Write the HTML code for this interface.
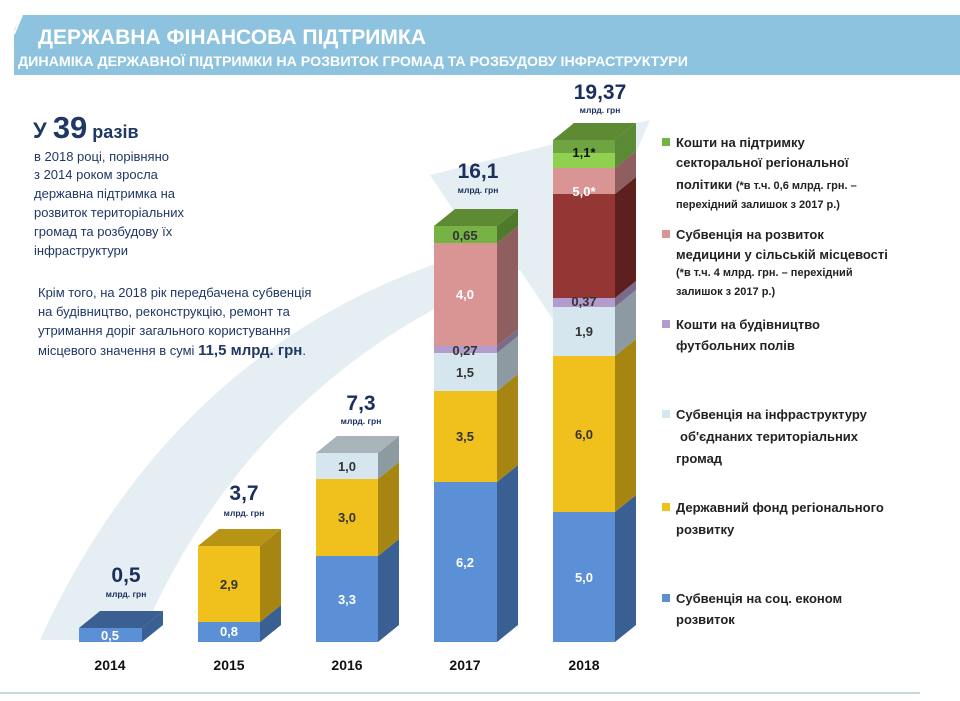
<!DOCTYPE html>
<html><head><meta charset="utf-8"><style>
body{margin:0;background:#fff;}
svg text{font-family:"Liberation Sans","DejaVu Sans",sans-serif;}
</style></head><body>
<svg width="960" height="696" viewBox="0 0 960 696" xmlns="http://www.w3.org/2000/svg">
<rect width="960" height="696" fill="#fff"/>
<!-- header -->
<polygon points="22,15 960,15 960,75 14,75 14,30" fill="#8dc3de"/>
<line x1="14" y1="34" x2="22" y2="15" stroke="#fff" stroke-width="2"/>
<text x="38" y="44" font-size="21" font-weight="bold" fill="#fff" textLength="388" lengthAdjust="spacingAndGlyphs">ДЕРЖАВНА ФІНАНСОВА  ПІДТРИМКА</text>
<text x="18" y="66" font-size="13.5" font-weight="bold" fill="#fff" textLength="670" lengthAdjust="spacingAndGlyphs">ДИНАМІКА ДЕРЖАВНОЇ ПІДТРИМКИ НА РОЗВИТОК ГРОМАД ТА РОЗБУДОВУ ІНФРАСТРУКТУРИ</text>
<line x1="0" y1="693" x2="920" y2="693" stroke="#c7d7e0" stroke-width="2"/>
<!-- background arrow -->
<path d="M40,640 C140,420 300,300 480,250 L430,175 L650,120 L560,330 L520,270 C360,330 220,450 140,640 Z" fill="#e4eef3"/>
<!-- left text -->
<text x="33" y="138" fill="#1f3864" font-weight="bold"><tspan font-size="22">У </tspan><tspan font-size="31">39</tspan><tspan font-size="18"> разів</tspan></text>
<g font-size="13" fill="#1f3864">
<text x="34" y="161">в 2018 році, порівняно</text>
<text x="34" y="179">з 2014 роком зросла</text>
<text x="34" y="198">державна підтримка на</text>
<text x="34" y="217">розвиток територіальних</text>
<text x="34" y="236">громад та розбудову їх</text>
<text x="34" y="255">інфраструктури</text>
<text x="38" y="297">Крім того, на 2018 рік передбачена субвенція</text>
<text x="38" y="316">на будівництво, реконструкцію, ремонт та</text>
<text x="38" y="335">утримання доріг  загального користування</text>
<text x="38" y="355">місцевого значення в сумі <tspan font-weight="bold" font-size="15">11,5 млрд. грн</tspan>.</text>
</g>
<!-- bars -->
<g>
<rect x="79" y="628" width="63" height="14" fill="#5b8fd6"/>
<polygon points="142,642 163,625 163,611 142,628" fill="#3a5f92"/>
<polygon points="79,628 100,611 163,611 142,628" fill="#3a5f92"/>
<rect x="198" y="622" width="62" height="20" fill="#5b8fd6"/>
<polygon points="260,642 281,625 281,605 260,622" fill="#3a5f92"/>
<rect x="198" y="546" width="62" height="76" fill="#f0c11c"/>
<polygon points="260,622 281,605 281,529 260,546" fill="#a68510"/>
<polygon points="198,546 219,529 281,529 260,546" fill="#b89414"/>
<rect x="316" y="556" width="62" height="86" fill="#5b8fd6"/>
<polygon points="378,642 399,625 399,539 378,556" fill="#3a5f92"/>
<rect x="316" y="479" width="62" height="77" fill="#f0c11c"/>
<polygon points="378,556 399,539 399,462 378,479" fill="#a68510"/>
<rect x="316" y="453" width="62" height="26" fill="#d6e6ee"/>
<polygon points="378,479 399,462 399,436 378,453" fill="#8d9aa2"/>
<polygon points="316,453 337,436 399,436 378,453" fill="#a9b4ba"/>
<rect x="434" y="482" width="63" height="160" fill="#5b8fd6"/>
<polygon points="497,642 518,625 518,465 497,482" fill="#3a5f92"/>
<rect x="434" y="391" width="63" height="91" fill="#f0c11c"/>
<polygon points="497,482 518,465 518,374 497,391" fill="#a68510"/>
<rect x="434" y="353" width="63" height="38" fill="#d6e6ee"/>
<polygon points="497,391 518,374 518,336 497,353" fill="#8d9aa2"/>
<rect x="434" y="346" width="63" height="7" fill="#b39bcb"/>
<polygon points="497,353 518,336 518,329 497,346" fill="#7a6a8c"/>
<rect x="434" y="243" width="63" height="103" fill="#d99594"/>
<polygon points="497,346 518,329 518,226 497,243" fill="#8e5f5e"/>
<rect x="434" y="226" width="63" height="17" fill="#77b244"/>
<polygon points="497,243 518,226 518,209 497,226" fill="#4f7a2c"/>
<polygon points="434,226 455,209 518,209 497,226" fill="#5f8a34"/>
<rect x="553" y="512" width="62" height="130" fill="#5b8fd6"/>
<polygon points="615,642 636,625 636,495 615,512" fill="#3a5f92"/>
<rect x="553" y="356" width="62" height="156" fill="#f0c11c"/>
<polygon points="615,512 636,495 636,339 615,356" fill="#a68510"/>
<rect x="553" y="307" width="62" height="49" fill="#d6e6ee"/>
<polygon points="615,356 636,339 636,290 615,307" fill="#8d9aa2"/>
<rect x="553" y="298" width="62" height="9" fill="#b39bcb"/>
<polygon points="615,307 636,290 636,281 615,298" fill="#7a6a8c"/>
<rect x="553" y="194" width="62" height="104" fill="#943634"/>
<polygon points="615,298 636,281 636,177 615,194" fill="#5e1f1f"/>
<rect x="553" y="168" width="62" height="26" fill="#d99594"/>
<polygon points="615,194 636,177 636,151 615,168" fill="#8e5f5e"/>
<rect x="553" y="153" width="62" height="15" fill="#8fd14f"/>
<rect x="553" y="140" width="62" height="13" fill="#6ea442"/>
<polygon points="615,168 636,151 636,123 615,140" fill="#5b8a34"/>
<polygon points="553,140 574,123 636,123 615,140" fill="#5f8a34"/>
</g>
<g font-size="13" font-weight="bold" text-anchor="middle">
<text x="110" y="640" fill="#fff">0,5</text>
<text x="229" y="636" fill="#fff">0,8</text>
<text x="229" y="589" fill="#333">2,9</text>
<text x="347" y="604" fill="#fff">3,3</text>
<text x="347" y="522" fill="#333">3,0</text>
<text x="347" y="471" fill="#333">1,0</text>
<text x="465" y="567" fill="#fff">6,2</text>
<text x="465" y="441" fill="#333">3,5</text>
<text x="465" y="377" fill="#333">1,5</text>
<text x="465" y="355" fill="#333">0,27</text>
<text x="465" y="299" fill="#fff">4,0</text>
<text x="465" y="240" fill="#333">0,65</text>
<text x="584" y="582" fill="#fff">5,0</text>
<text x="584" y="439" fill="#333">6,0</text>
<text x="584" y="336" fill="#333">1,9</text>
<text x="584" y="306" fill="#333">0,37</text>
<text x="584" y="196" fill="#fff">5,0*</text>
<text x="584" y="157" fill="#111">1,1*</text>
</g>
<g fill="#1a2f5e" font-weight="bold" text-anchor="middle">
<text x="126" y="582" font-size="21">0,5</text><text x="126" y="597" font-size="8.5">млрд. грн</text>
<text x="244" y="500" font-size="21">3,7</text><text x="244" y="516" font-size="8.5">млрд. грн</text>
<text x="361" y="410" font-size="21">7,3</text><text x="361" y="424" font-size="8.5">млрд. грн</text>
<text x="478" y="178" font-size="21">16,1</text><text x="478" y="193" font-size="8.5">млрд. грн</text>
<text x="600" y="99" font-size="21">19,37</text><text x="600" y="113" font-size="8.5">млрд. грн</text>
</g>
<g font-size="14" font-weight="bold" fill="#111" text-anchor="middle">
<text x="110" y="670">2014</text><text x="229" y="670">2015</text><text x="347" y="670">2016</text><text x="465" y="670">2017</text><text x="584" y="670">2018</text>
</g>
<g font-size="13" font-weight="bold" fill="#222">
<rect x="662" y="138" width="8" height="8" fill="#77b244"/>
<text x="676" y="147">Кошти на підтримку</text>
<text x="676" y="167">секторальної регіональної</text>
<text x="676" y="189">політики <tspan font-size="11">(*в т.ч. 0,6 млрд. грн. –</tspan></text>
<text x="676" y="208" font-size="11">перехідний залишок з 2017 р.)</text>
<rect x="662" y="230" width="8" height="8" fill="#d99594"/>
<text x="676" y="239">Субвенція на розвиток</text>
<text x="676" y="259">медицини у сільській місцевості</text>
<text x="676" y="276" font-size="11">(*в т.ч. 4 млрд. грн. – перехідний</text>
<text x="676" y="295" font-size="11">залишок з 2017 р.)</text>
<rect x="662" y="320" width="8" height="8" fill="#b39bcb"/>
<text x="676" y="329">Кошти на будівництво</text>
<text x="676" y="350">футбольних полів</text>
<rect x="662" y="410" width="8" height="8" fill="#d6e6ee"/>
<text x="676" y="419">Субвенція на інфраструктуру</text>
<text x="680" y="441">об'єднаних територіальних</text>
<text x="676" y="463">громад</text>
<rect x="662" y="503" width="8" height="8" fill="#f0c11c"/>
<text x="676" y="512">Державний фонд регіонального</text>
<text x="676" y="534">розвитку</text>
<rect x="662" y="594" width="8" height="8" fill="#5b8fd6"/>
<text x="676" y="603">Субвенція на соц. економ</text>
<text x="676" y="624">розвиток</text>
</g>
</svg>
</body></html>
